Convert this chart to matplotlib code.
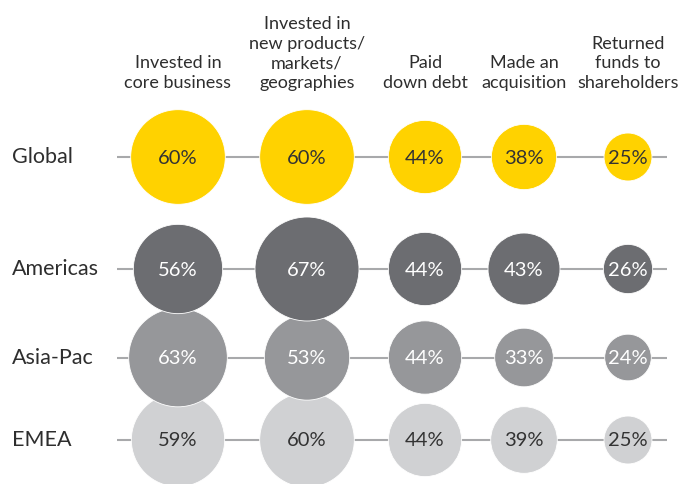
import matplotlib
matplotlib.use("Agg")
import matplotlib.pyplot as plt
from matplotlib.patches import Circle

categories = ["Invested in\ncore business",
              "Invested in\nnew products/\nmarkets/\ngeographies",
              "Paid\ndown debt",
              "Made an\nacquisition",
              "Returned\nfunds to\nshareholders"]
regions = ["Global", "Americas", "Asia-Pac", "EMEA"]
global_vals = [60, 60, 44, 38, 25]
americas_vals = [56, 67, 44, 43, 26]
asiapac_vals = [63, 53, 44, 33, 24]
emea_vals = [59, 60, 44, 39, 25]
series = [global_vals, americas_vals, asiapac_vals, emea_vals]

# layout (pixels)
col_x = [178, 307, 425, 524, 628]
row_y = [157, 269, 357.5, 440]
fills = ["#FFD200", "#6C6D71", "#96979A", "#D0D1D3"]
text_cols = ["#333333", "#FFFFFF", "#FFFFFF", "#333333"]

plt.rcParams['font.family'] = ['Lato', 'DejaVu Sans']

fig = plt.figure(figsize=(6.79, 4.84), dpi=100)
ax = fig.add_axes([0, 0, 1, 1])
ax.set_xlim(0, 679)
ax.set_ylim(484, 0)
ax.set_aspect('equal')
ax.axis('off')

def radius(v):
    return 0.667 * v + 7.3

# lines
for y in row_y:
    ax.plot([117, 667], [y, y], color="#A8A9AB", lw=1.5, zorder=1, solid_capstyle='butt')

# bubbles: later rows below earlier rows
for ri in reversed(range(len(regions))):
    vals = series[ri]
    for ci, v in enumerate(vals):
        c = Circle((col_x[ci], row_y[ri]), radius(v), facecolor=fills[ri],
                   edgecolor='white', lw=0.6, zorder=10 + (len(regions) - ri))
        ax.add_patch(c)
        ax.text(col_x[ci], row_y[ri] + 1, f"{v}%", ha='center', va='center',
                fontsize=14.5, color=text_cols[ri], zorder=20)

for ri, name in enumerate(regions):
    ax.text(12, row_y[ri], name, ha='left', va='center', fontsize=15.5,
            color="#2E2E2E")

for ci, cat in enumerate(categories):
    ax.text(col_x[ci], 91, cat, ha='center', va='bottom', fontsize=13,
            color="#2E2E2E", linespacing=1.27)

fig.savefig("out.png", dpi=100)
